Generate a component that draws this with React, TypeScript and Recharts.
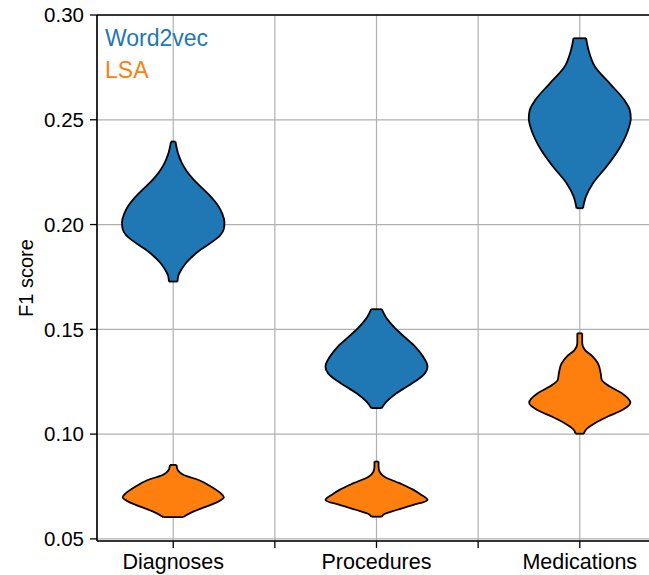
import React from 'react';
import { ComposedChart, Area, Line, XAxis, YAxis, CartesianGrid, ReferenceLine } from 'recharts';

const categories = ['Diagnoses', 'Procedures', 'Medications'];
const methods = ['Word2vec', 'LSA'];
const methodColors = ['#1f77b4', '#ff7f0e'];
const yTicks = [0.05, 0.1, 0.15, 0.2, 0.25, 0.3];
const xTicks = [0, 0.5, 1, 1.5, 2];

// [F1 score, half width of the violin in category units]
const word2vecDiagnoses = [
  [0.2396, 0.011], [0.2336, 0.025], [0.2297, 0.041], [0.2257, 0.065], [0.2217, 0.098],
  [0.2169, 0.148], [0.2130, 0.188], [0.2090, 0.221], [0.2050, 0.242], [0.2011, 0.252],
  [0.1979, 0.249], [0.1947, 0.230], [0.1915, 0.188], [0.1883, 0.139], [0.1851, 0.098],
  [0.1819, 0.065], [0.1787, 0.041], [0.1756, 0.025], [0.1728, 0.021],
];
const word2vecProcedures = [
  [0.1596, 0.026], [0.1561, 0.044], [0.1513, 0.084], [0.1465, 0.136], [0.1418, 0.190],
  [0.137, 0.229], [0.1322, 0.251], [0.1290, 0.238], [0.1258, 0.200], [0.1227, 0.150],
  [0.1195, 0.098], [0.1155, 0.049], [0.1124, 0.025],
];
const word2vecMedications = [
  [0.2889, 0.031], [0.2833, 0.043], [0.2753, 0.075], [0.2674, 0.147], [0.2594, 0.219],
  [0.2547, 0.246], [0.2507, 0.251], [0.2436, 0.232], [0.2356, 0.190], [0.2276, 0.131],
  [0.2197, 0.065], [0.2133, 0.03], [0.2078, 0.016],
];
const lsaDiagnoses = [
  [0.0853, 0.016], [0.0829, 0.022], [0.0805, 0.052], [0.0781, 0.125], [0.075, 0.185],
  [0.0718, 0.233], [0.0699, 0.249], [0.0678, 0.221], [0.0654, 0.162], [0.063, 0.098],
  [0.0604, 0.049],
];
const lsaProcedures = [
  [0.0869, 0.01], [0.0845, 0.01], [0.0821, 0.015], [0.0797, 0.039], [0.0766, 0.113],
  [0.0734, 0.182], [0.071, 0.221], [0.0686, 0.251], [0.0662, 0.182], [0.0638, 0.098],
  [0.0619, 0.039], [0.0606, 0.025],
];
const lsaMedications = [
  [0.1481, 0.012], [0.1434, 0.012], [0.1402, 0.025], [0.137, 0.064], [0.1338, 0.089],
  [0.129, 0.103], [0.1259, 0.108], [0.1227, 0.148], [0.1195, 0.207], [0.115, 0.249],
  [0.1116, 0.211], [0.1084, 0.138], [0.1052, 0.074], [0.1021, 0.03], [0.1002, 0.02],
];

const violinSets = [
  { cat: 0, method: 0, pts: word2vecDiagnoses },
  { cat: 1, method: 0, pts: word2vecProcedures },
  { cat: 2, method: 0, pts: word2vecMedications },
  { cat: 0, method: 1, pts: lsaDiagnoses },
  { cat: 1, method: 1, pts: lsaProcedures },
  { cat: 2, method: 1, pts: lsaMedications },
];

const violins = violinSets.map((v) => {
  const area = v.pts.map(([y, hw]) => ({ y, range: [v.cat - hw, v.cat + hw] }));
  const first = v.pts[0];
  const last = v.pts[v.pts.length - 1];
  const topTip = [
    { y: first[0], x: v.cat - first[1] },
    { y: first[0], x: v.cat + first[1] },
  ];
  const bottomTip = [
    { y: last[0], x: v.cat - last[1] },
    { y: last[0], x: v.cat + last[1] },
  ];
  return { ...v, area, topTip, bottomTip };
});

const font = '"Liberation Sans", Arial, Helvetica, sans-serif';

export default function App() {
  return (
    <div
      style={{
        position: 'absolute',
        left: 0,
        top: 0,
        width: 649,
        height: 575,
        overflow: 'hidden',
        background: '#fff',
        fontFamily: font,
      }}
    >
      <ComposedChart
        width={660}
        height={575}
        layout="vertical"
        margin={{ top: 15, right: 4, bottom: 0, left: 0 }}
      >
        <CartesianGrid stroke="#b0b0b0" strokeWidth={1.2} />
        <XAxis
          type="number"
          dataKey="x"
          domain={[-0.375, 2.375]}
          allowDataOverflow
          ticks={xTicks}
          interval={0}
          height={34}
          tickFormatter={(v: number) => (Number.isInteger(v) ? categories[v] : '')}
          tick={{ fill: '#000', fontSize: 21.5, fontFamily: font }}
          tickSize={7}
          tickMargin={6}
          tickLine={{ stroke: '#000', strokeWidth: 1.3 }}
          axisLine={{ stroke: '#000', strokeWidth: 1.6 }}
        />
        <YAxis
          type="number"
          dataKey="y"
          domain={[0.049, 0.3]}
          allowDataOverflow
          reversed
          ticks={yTicks}
          interval={0}
          width={97}
          tickFormatter={(v: number) => v.toFixed(2)}
          tick={{ fill: '#000', fontSize: 20.5, fontFamily: font }}
          tickSize={7}
          tickMargin={6}
          tickLine={{ stroke: '#000', strokeWidth: 1.3 }}
          axisLine={{ stroke: '#000', strokeWidth: 1.6 }}
        />
        <ReferenceLine y={0.3} stroke="#000" strokeWidth={1.6} />
        {violins.map((v, i) => (
          <Area
            key={'a' + i}
            data={v.area}
            dataKey="range"
            type="monotone"
            fill={methodColors[v.method]}
            fillOpacity={1}
            stroke="#000"
            strokeWidth={1.8}
            isAnimationActive={false}
            dot={false}
            activeDot={false}
          />
        ))}
        {violins.map((v, i) => (
          <Line
            key={'t' + i}
            data={v.topTip}
            dataKey="x"
            type="linear"
            stroke="#000"
            strokeWidth={1.8}
            dot={false}
            activeDot={false}
            isAnimationActive={false}
          />
        ))}
        {violins.map((v, i) => (
          <Line
            key={'b' + i}
            data={v.bottomTip}
            dataKey="x"
            type="linear"
            stroke="#000"
            strokeWidth={1.8}
            dot={false}
            activeDot={false}
            isAnimationActive={false}
          />
        ))}
      </ComposedChart>
      {methods.map((m, i) => (
        <div
          key={m}
          style={{
            position: 'absolute',
            left: 105,
            top: 26.5 + i * 32,
            fontSize: 23,
            lineHeight: '23px',
            color: methodColors[i],
            whiteSpace: 'nowrap',
          }}
        >
          {m}
        </div>
      ))}
      <div
        style={{
          position: 'absolute',
          left: 26 - 100,
          top: 278 - 10,
          width: 200,
          height: 20,
          lineHeight: '20px',
          fontSize: 20,
          textAlign: 'center',
          transform: 'rotate(-90deg)',
          color: '#000',
          whiteSpace: 'nowrap',
        }}
      >
        F1 score
      </div>
    </div>
  );
}
